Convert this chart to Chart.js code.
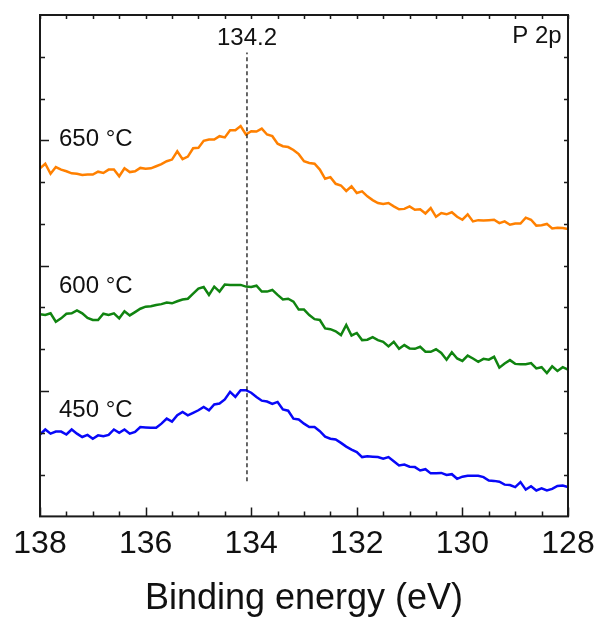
<!DOCTYPE html>
<html>
<head>
<meta charset="utf-8">
<script src="https://cdn.jsdelivr.net/npm/chart.js@4"></script>
<style>
  html, body { margin: 0; padding: 0; background: #fff; }
  #wrap { width: 602px; height: 621px; }
</style>
</head>
<body>
<div id="wrap"><canvas id="xps"></canvas></div>
<script>
// binding energy grid (eV), 138 -> 128
const energies = [
  138.0, 137.9, 137.8, 137.7, 137.6, 137.5, 137.4, 137.3, 137.2, 137.1,
  137.0, 136.9, 136.8, 136.7, 136.6, 136.5, 136.4, 136.3, 136.2, 136.1,
  136.0, 135.9, 135.8, 135.7, 135.6, 135.5, 135.4, 135.3, 135.2, 135.1,
  135.0, 134.9, 134.8, 134.7, 134.6, 134.5, 134.4, 134.3, 134.2, 134.1,
  134.0, 133.9, 133.8, 133.7, 133.6, 133.5, 133.4, 133.3, 133.2, 133.1,
  133.0, 132.9, 132.8, 132.7, 132.6, 132.5, 132.4, 132.3, 132.2, 132.1,
  132.0, 131.9, 131.8, 131.7, 131.6, 131.5, 131.4, 131.3, 131.2, 131.1,
  131.0, 130.9, 130.8, 130.7, 130.6, 130.5, 130.4, 130.3, 130.2, 130.1,
  130.0, 129.9, 129.8, 129.7, 129.6, 129.5, 129.4, 129.3, 129.2, 129.1,
  129.0, 128.9, 128.8, 128.7, 128.6, 128.5, 128.4, 128.3, 128.2, 128.1,
  128.0
];

// intensities (arb. units, stacked with offsets)
const t650 = [
  8.33, 8.44, 8.20, 8.36, 8.30, 8.26, 8.21, 8.20, 8.17, 8.18,
  8.18, 8.25, 8.22, 8.30, 8.30, 8.14, 8.33, 8.24, 8.26, 8.34,
  8.32, 8.33, 8.38, 8.43, 8.50, 8.54, 8.74, 8.55, 8.61, 8.81,
  8.82, 8.99, 9.02, 9.02, 9.10, 9.07, 9.24, 9.24, 9.34, 9.14,
  9.22, 9.21, 9.28, 9.14, 9.10, 8.92, 8.86, 8.84, 8.77, 8.67,
  8.50, 8.46, 8.44, 8.30, 8.08, 8.12, 7.96, 7.92, 7.79, 7.90,
  7.74, 7.78, 7.66, 7.57, 7.50, 7.48, 7.50, 7.42, 7.35, 7.36,
  7.42, 7.34, 7.35, 7.25, 7.38, 7.17, 7.26, 7.23, 7.28, 7.17,
  7.10, 7.23, 7.06, 7.09, 7.08, 7.09, 7.10, 7.02, 7.06, 6.98,
  7.01, 7.01, 7.15, 7.10, 6.96, 6.97, 7.00, 6.89, 6.91, 6.90,
  6.88
];
const t600 = [
  4.84, 4.82, 4.86, 4.66, 4.74, 4.85, 4.86, 4.93, 4.86, 4.75,
  4.70, 4.70, 4.85, 4.82, 4.86, 4.74, 4.91, 4.81, 4.89, 4.97,
  5.02, 5.03, 5.06, 5.08, 5.12, 5.10, 5.15, 5.19, 5.21, 5.33,
  5.45, 5.49, 5.30, 5.50, 5.38, 5.55, 5.54, 5.54, 5.54, 5.50,
  5.49, 5.52, 5.38, 5.38, 5.42, 5.30, 5.19, 5.21, 5.14, 4.95,
  4.95, 4.82, 4.72, 4.70, 4.50, 4.48, 4.43, 4.34, 4.58, 4.33,
  4.39, 4.22, 4.23, 4.29, 4.22, 4.18, 4.07, 4.18, 4.01, 4.10,
  4.02, 4.01, 4.06, 3.94, 3.94, 4.00, 3.91, 3.75, 3.93, 3.78,
  3.72, 3.85, 3.78, 3.70, 3.77, 3.75, 3.82, 3.56, 3.66, 3.74,
  3.65, 3.64, 3.64, 3.67, 3.54, 3.57, 3.43, 3.59, 3.48, 3.57,
  3.51
];
const t450 = [
  1.96, 2.08, 1.98, 2.03, 2.03, 1.96, 2.08, 1.98, 1.90, 1.95,
  1.86, 1.94, 1.92, 1.95, 2.08, 2.00, 2.08, 1.98, 2.02, 2.14,
  2.13, 2.12, 2.12, 2.22, 2.34, 2.27, 2.42, 2.50, 2.42, 2.48,
  2.54, 2.62, 2.54, 2.68, 2.70, 2.80, 2.98, 2.86, 3.02, 3.02,
  2.96, 2.86, 2.77, 2.75, 2.69, 2.74, 2.56, 2.53, 2.34, 2.32,
  2.22, 2.14, 2.14, 2.04, 1.91, 1.86, 1.84, 1.76, 1.67, 1.60,
  1.54, 1.42, 1.44, 1.43, 1.42, 1.38, 1.42, 1.32, 1.22, 1.24,
  1.19, 1.18, 1.10, 1.13, 1.03, 1.03, 1.04, 0.99, 1.01, 0.90,
  0.95, 0.97, 0.97, 0.97, 0.94, 0.86, 0.85, 0.83, 0.76, 0.75,
  0.70, 0.82, 0.64, 0.72, 0.62, 0.67, 0.62, 0.66, 0.73, 0.74,
  0.70
];

const seriesNames = ['650 °C', '600 °C', '450 °C'];
const seriesColors = ['#ff8000', '#108410', '#0808f8'];

// peak marker
const peakLabel = '134.2';
const peakPos = 134.08;
const peakSpan = [0.84, 11.1];

// axis ticks
const xTicks = [138, 136, 134, 132, 130, 128];

const FONT = "'Liberation Sans', Arial, sans-serif";

function toPoints(ys) {
    return energies.map((e, i) => ({ x: e, y: ys[i] }));
}

// texts written inside the frame, placed with data coordinates
const notes = [
    { text: seriesNames[0], x: 137.64, y: 9.02, align: 'left' },
    { text: seriesNames[1], x: 137.64, y: 5.50, align: 'left' },
    { text: seriesNames[2], x: 137.64, y: 2.54, align: 'left' },
    { text: peakLabel, x: peakPos, y: 11.45, align: 'center' },
    { text: 'P 2p', x: 128.12, y: 11.5, align: 'right' }
];

// frame + inward ticks + notes
const framePlugin = {
    id: 'framePlugin',
    afterDatasetsDraw(chart) {
        const ctx = chart.ctx;
        const a = chart.chartArea;
        const xs = chart.scales.x;
        const ys = chart.scales.y;
        ctx.save();
        ctx.strokeStyle = '#1a1a1a';
        ctx.lineWidth = 2;
        ctx.strokeRect(a.left, a.top, a.right - a.left, a.bottom - a.top);

        ctx.lineWidth = 1.5;
        ctx.beginPath();
        for (let v = 128; v <= 138; v += 0.5) {
            const px = Math.round(xs.getPixelForValue(v)) + 0.5;
            const major = xTicks.includes(v);
            const len = major ? 9 : 5;
            ctx.moveTo(px, a.bottom);
            ctx.lineTo(px, a.bottom - len);
            ctx.moveTo(px, a.top);
            ctx.lineTo(px, a.top + 4);
        }
        for (let v = 1; v < 12; v++) {
            const py = Math.round(ys.getPixelForValue(v)) + 0.5;
            const len = (v % 3 === 0) ? 9 : 5;
            ctx.moveTo(a.left, py);
            ctx.lineTo(a.left + len, py);
            ctx.moveTo(a.right, py);
            ctx.lineTo(a.right - 4, py);
        }
        ctx.stroke();

        ctx.fillStyle = '#111';
        ctx.font = '24px ' + FONT;
        ctx.textBaseline = 'middle';
        notes.forEach(n => {
            ctx.textAlign = n.align;
            ctx.fillText(n.text, xs.getPixelForValue(n.x), ys.getPixelForValue(n.y));
        });
        ctx.restore();
    }
};

const curves = [t650, t600, t450].map((ys, i) => ({
    label: seriesNames[i],
    data: toPoints(ys),
    borderColor: seriesColors[i],
    borderWidth: 2.5,
    pointRadius: 0,
    tension: 0,
    fill: false
}));

const peakLine = {
    label: 'peak',
    data: [{ x: peakPos, y: peakSpan[0] }, { x: peakPos, y: peakSpan[1] }],
    borderColor: '#000',
    borderWidth: 1.2,
    borderDash: [4, 3],
    pointRadius: 0,
    fill: false
};

new Chart(document.getElementById('xps'), {
    type: 'line',
    data: { datasets: [peakLine].concat(curves) },
    options: {
        responsive: true,
        maintainAspectRatio: false,
        devicePixelRatio: 1,
        animation: false,
        layout: { padding: { left: 40, right: 34, top: 15, bottom: 0 } },
        plugins: {
            legend: { display: false },
            tooltip: { enabled: false }
        },
        scales: {
            x: {
                type: 'linear',
                reverse: true,
                min: 128,
                max: 138,
                grid: { display: false },
                border: { display: false },
                afterBuildTicks: axis => {
                    axis.ticks = xTicks.map(v => ({ value: v }));
                },
                ticks: {
                    color: '#111',
                    font: { family: FONT, size: 32 },
                    padding: 1,
                    maxRotation: 0,
                    autoSkip: false
                },
                title: {
                    display: true,
                    text: 'Binding energy (eV)',
                    color: '#111',
                    font: { family: FONT, size: 36 },
                    padding: { top: 13, bottom: 0 }
                }
            },
            y: {
                display: false,
                min: 0,
                max: 12
            }
        }
    },
    plugins: [framePlugin]
});
</script>
</body>
</html>
